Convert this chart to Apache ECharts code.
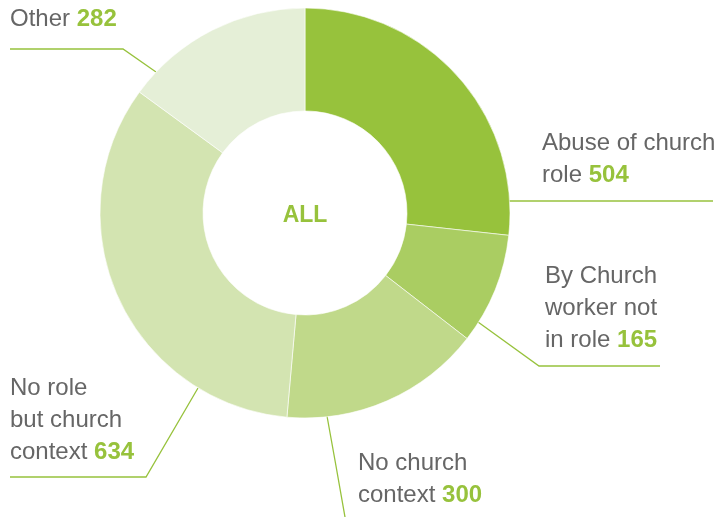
<!DOCTYPE html>
<html>
<head>
<meta charset="utf-8">
<script src="https://cdn.jsdelivr.net/npm/echarts@6/dist/echarts.min.js"></script>
<style>
  html, body { margin: 0; padding: 0; background: #fff; }
  #chart { width: 717px; height: 517px; }
</style>
</head>
<body>
<div id="chart"></div>
<script>
// categories, clockwise from 12 o'clock
const categories = [
  'Abuse of church\nrole',
  'By Church\nworker not\nin role',
  'No church\ncontext',
  'No role\nbut church\ncontext',
  'Other'
]
const counts = [504, 165, 300, 634, 282]
const sliceColors = ['#97c23c', '#aacd62', '#c0d98a', '#d3e4b1', '#e5efd7']

const GREEN = '#97c23c'
const GREY = '#666666'
const FONT = '"Liberation Sans", Arial, sans-serif'
const CX = 305
const CY = 213

// label box (top-left) and leader line points, one per slice
const labelPlace = [
  { x: 542, y: 127, line: [[508, 201], [610, 201], [713, 201]] },
  { x: 545, y: 260, line: [[478, 322], [539, 366], [660, 366]] },
  { x: 358, y: 447, line: [[327, 416], [336, 466], [345, 517]] },
  { x: 10, y: 372, line: [[198, 388], [146, 477], [10, 477]] },
  { x: 10, y: 3, line: [[156, 72], [123, 49], [10, 49]] }
]

const chart = echarts.init(document.getElementById('chart'))

chart.setOption({
  backgroundColor: '#fff',
  animation: false,
  graphic: [{
    type: 'text',
    x: CX,
    y: CY + 3,
    style: {
      text: 'ALL',
      fill: GREEN,
      font: 'bold 23px ' + FONT,
      textAlign: 'center',
      textVerticalAlign: 'middle'
    }
  }],
  series: [{
    type: 'pie',
    center: [CX, CY],
    radius: [102, 205],
    startAngle: 90,
    clockwise: true,
    avoidLabelOverlap: false,
    itemStyle: { borderColor: '#ffffff', borderWidth: 0.6 },
    emphasis: { disabled: true },
    data: categories.map((name, i) => ({
      name,
      value: counts[i],
      itemStyle: { color: sliceColors[i] }
    })),
    label: {
      show: true,
      position: 'outside',
      formatter: (p) => `{t|${p.name} }{v|${p.value}}`,
      rich: {
        t: { color: GREY, fontSize: 24, lineHeight: 32, fontFamily: FONT },
        v: { color: GREEN, fontSize: 24, lineHeight: 32, fontWeight: 'bold', fontFamily: FONT }
      }
    },
    labelLine: {
      show: true,
      smooth: false,
      lineStyle: { color: GREEN, width: 1.3 }
    },
    labelLayout: (params) => {
      const p = labelPlace[params.dataIndex]
      return {
        x: p.x,
        y: p.y,
        align: 'left',
        verticalAlign: 'top',
        labelLinePoints: p.line
      }
    }
  }]
})
</script>
</body>
</html>
